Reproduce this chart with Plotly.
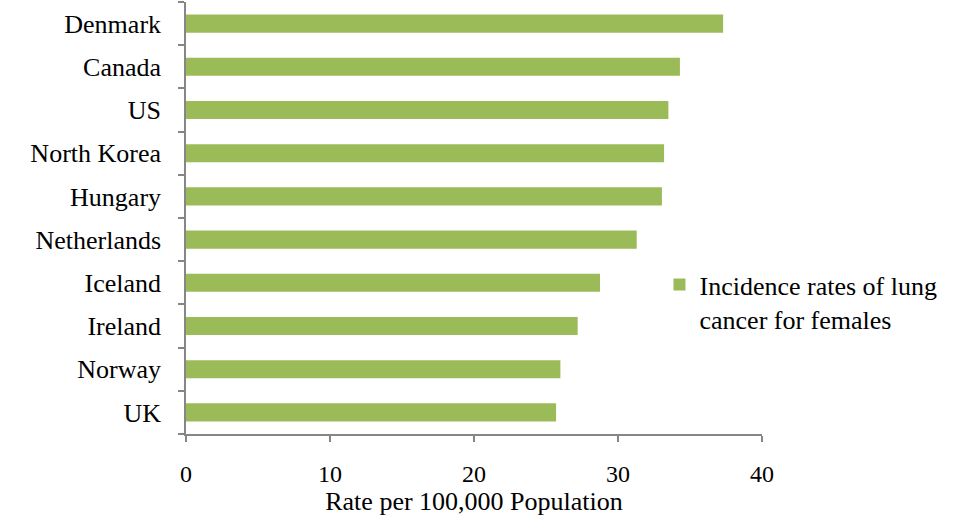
import plotly.graph_objects as go

countries = ["Denmark", "Canada", "US", "North Korea", "Hungary",
             "Netherlands", "Iceland", "Ireland", "Norway", "UK"]
rates = [37.3, 34.3, 33.5, 33.2, 33.05, 31.3, 28.75, 27.2, 26.0, 25.7]
series_name = "Incidence rates of lung<br>cancer for females"
x_ticks = [0, 10, 20, 30, 40]

FONT = "Liberation Serif, Times New Roman, serif"

fig = go.Figure()
fig.add_trace(go.Bar(
    y=countries, x=rates, orientation="h",
    name=series_name, marker=dict(color="#9BBB59", line=dict(width=0)),
    showlegend=True,
))

fig.update_layout(
    width=968, height=516,
    margin=dict(l=186, r=206, t=2, b=82),
    paper_bgcolor="white", plot_bgcolor="white",
    font=dict(family=FONT, size=26, color="black"),
    bargap=0.58,
    showlegend=True,
    legend=dict(
        x=0.822, y=0.40, xanchor="left", yanchor="top",
        valign="top", bgcolor="rgba(0,0,0,0)",
        font=dict(family=FONT, size=26, color="black"),
        itemsizing="constant",
    ),
    xaxis=dict(
        range=[0, 40], tickvals=x_ticks, ticktext=[str(v) for v in x_ticks],
        showgrid=False, zeroline=False, automargin=False,
        showline=True, linecolor="#868686", linewidth=1.5,
        ticks="outside", ticklen=6, tickcolor="#868686", tickwidth=1.5,
        ticklabelstandoff=11, tickfont=dict(family=FONT, size=24),
        title=dict(text="Rate per 100,000 Population", standoff=14,
                   font=dict(family=FONT, size=26)),
    ),
    yaxis=dict(
        categoryorder="array", categoryarray=countries[::-1],
        showgrid=False, zeroline=False, automargin=False,
        showline=True, linecolor="#868686", linewidth=1.5,
        ticks="outside", ticklen=6, tickcolor="#868686", tickwidth=1.5,
        tickson="boundaries", ticklabelstandoff=18,
    ),
)

fig.write_html("out.html")
